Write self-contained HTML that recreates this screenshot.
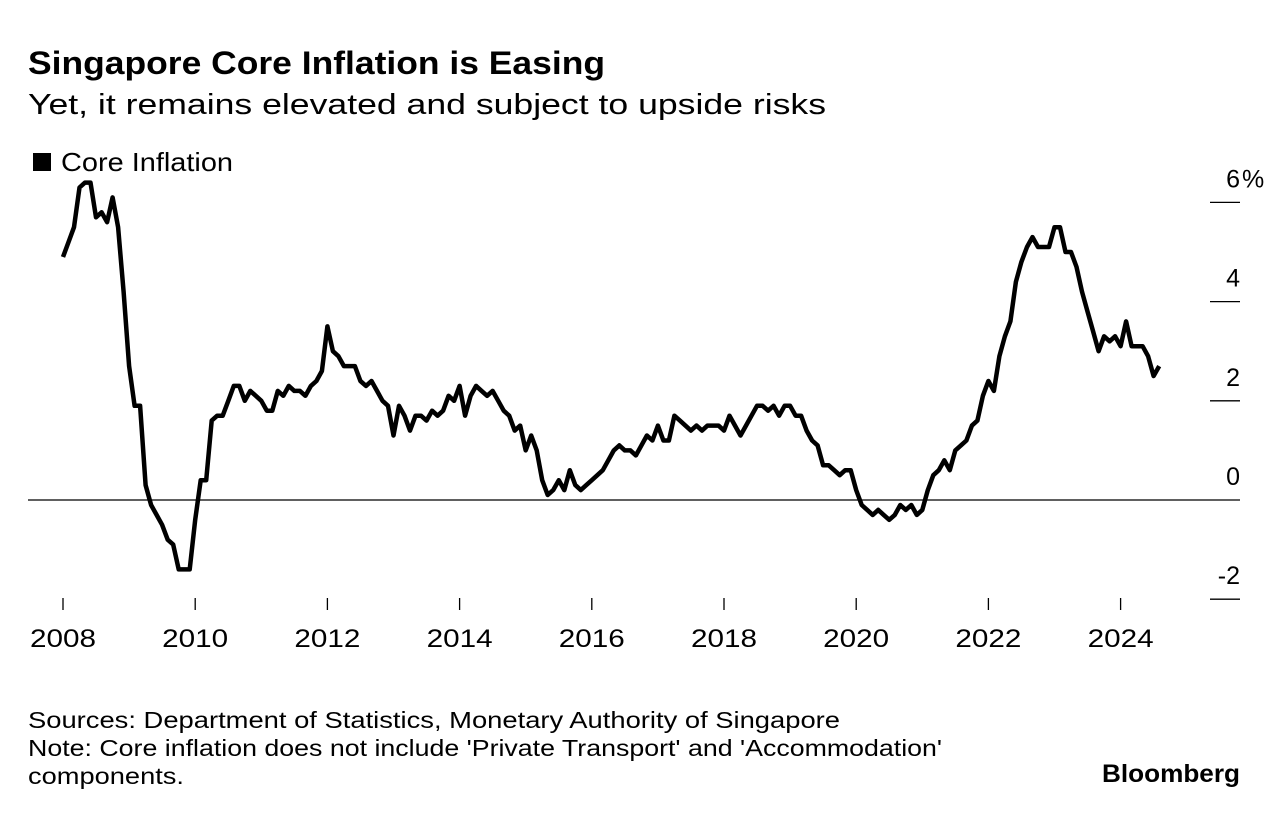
<!DOCTYPE html>
<html><head><meta charset="utf-8"><style>
body{margin:0;background:#fff;font-family:"Liberation Sans",sans-serif;color:#000}
#c{position:relative;width:1280px;height:818px;overflow:hidden}
</style></head><body>
<div id="c">
<svg id="s" width="1280" height="818" style="position:absolute;left:0;top:0">
<text x="28" y="74" font-size="32" font-weight="bold" textLength="577" lengthAdjust="spacingAndGlyphs">Singapore Core Inflation is Easing</text>
<text x="28" y="114" font-size="29" textLength="798" lengthAdjust="spacingAndGlyphs">Yet, it remains elevated and subject to upside risks</text>
<rect x="33" y="153" width="18" height="18" fill="#000"/>
<text x="61" y="171" font-size="26" textLength="172" lengthAdjust="spacingAndGlyphs">Core Inflation</text>
<text x="28" y="728" font-size="23" textLength="812" lengthAdjust="spacingAndGlyphs">Sources: Department of Statistics, Monetary Authority of Singapore</text>
<text x="28" y="756" font-size="23" textLength="914" lengthAdjust="spacingAndGlyphs">Note: Core inflation does not include 'Private Transport' and 'Accommodation'</text>
<text x="28" y="784" font-size="23" textLength="156" lengthAdjust="spacingAndGlyphs">components.</text>
<text x="1102" y="782" font-size="25" font-weight="bold" textLength="138" lengthAdjust="spacingAndGlyphs">Bloomberg</text>
<g id="axes"></g>
<path id="line" fill="none" stroke="#000" stroke-width="4.5" stroke-linejoin="round"/>
</svg>
</div>
<script>
const startYear = 2008;
const values = [
4.9,5.2,5.5,6.3,6.4,6.4,5.7,5.8,5.6,6.1,5.5,4.2,
2.7,1.9,1.9,0.3,-0.1,-0.3,-0.5,-0.8,-0.9,-1.4,-1.4,-1.4,
-0.4,0.4,0.4,1.6,1.7,1.7,2.0,2.3,2.3,2.0,2.2,2.1,
2.0,1.8,1.8,2.2,2.1,2.3,2.2,2.2,2.1,2.3,2.4,2.6,
3.5,3.0,2.9,2.7,2.7,2.7,2.4,2.3,2.4,2.2,2.0,1.9,
1.3,1.9,1.7,1.4,1.7,1.7,1.6,1.8,1.7,1.8,2.1,2.0,
2.3,1.7,2.1,2.3,2.2,2.1,2.2,2.0,1.8,1.7,1.4,1.5,
1.0,1.3,1.0,0.4,0.1,0.2,0.4,0.2,0.6,0.3,0.2,0.3,
0.4,0.5,0.6,0.8,1.0,1.1,1.0,1.0,0.9,1.1,1.3,1.2,
1.5,1.2,1.2,1.7,1.6,1.5,1.4,1.5,1.4,1.5,1.5,1.5,
1.4,1.7,1.5,1.3,1.5,1.7,1.9,1.9,1.8,1.9,1.7,1.9,
1.9,1.7,1.7,1.4,1.2,1.1,0.7,0.7,0.6,0.5,0.6,0.6,
0.2,-0.1,-0.2,-0.3,-0.2,-0.3,-0.4,-0.3,-0.1,-0.2,-0.1,-0.3,
-0.2,0.2,0.5,0.6,0.8,0.6,1.0,1.1,1.2,1.5,1.6,2.1,
2.4,2.2,2.9,3.3,3.6,4.4,4.8,5.1,5.3,5.1,5.1,5.1,
5.5,5.5,5.0,5.0,4.7,4.2,3.8,3.4,3.0,3.3,3.2,3.3,
3.1,3.6,3.1,3.1,3.1,2.9,2.5,2.7
];
const yTicks = [6,4,2,0,-2];
const yTickLabels = ["6","4","2","0","-2"];
const xTicks = [2008,2010,2012,2014,2016,2018,2020,2022,2024];

function xs(yearFrac){return 63 + (yearFrac-2008)*66.1;}
function ys(v){return 500 - v*49.6;}
const NS="http://www.w3.org/2000/svg";
const axes=document.getElementById('axes');
yTicks.forEach((t,i)=>{
  const y=ys(t);
  const ln=document.createElementNS(NS,'line');
  ln.setAttribute('x1', t===0?28:1210); ln.setAttribute('x2',1240);
  ln.setAttribute('y1',y); ln.setAttribute('y2',y);
  ln.setAttribute('stroke', '#000'); ln.setAttribute('stroke-width', 1.3);
  
  
  axes.appendChild(ln);
  const tx=document.createElementNS(NS,'text');
  tx.setAttribute('x',1240); tx.setAttribute('y',y-15);
  tx.setAttribute('text-anchor','end'); tx.setAttribute('font-size','25');
  tx.textContent=yTickLabels[i];
  
  
  axes.appendChild(tx);
  if(i===0){
    const pc=document.createElementNS(NS,'text');
    pc.setAttribute('x',1242); pc.setAttribute('y',y-15);
    pc.setAttribute('font-size','25');
    pc.textContent='%';
    
    
    axes.appendChild(pc);
  }
});
xTicks.forEach(t=>{
  const x=xs(t);
  const ln=document.createElementNS(NS,'line');
  ln.setAttribute('x1',x); ln.setAttribute('x2',x);
  ln.setAttribute('y1',598); ln.setAttribute('y2',610);
  ln.setAttribute('stroke','#000'); ln.setAttribute('stroke-width',1.3);
  
  
  axes.appendChild(ln);
  const tx=document.createElementNS(NS,'text');
  tx.setAttribute('x',x); tx.setAttribute('y',647);
  tx.setAttribute('text-anchor','middle'); tx.setAttribute('font-size','25');
  tx.setAttribute('textLength','66'); tx.setAttribute('lengthAdjust','spacingAndGlyphs');
  tx.textContent=t;
  
  
  axes.appendChild(tx);
});
let d='';
values.forEach((v,i)=>{
  d += (i?'L':'M') + xs(startYear + i/12).toFixed(1) + ',' + ys(v).toFixed(1);
});
document.getElementById('line').setAttribute('d',d);
</script>
</body></html>
